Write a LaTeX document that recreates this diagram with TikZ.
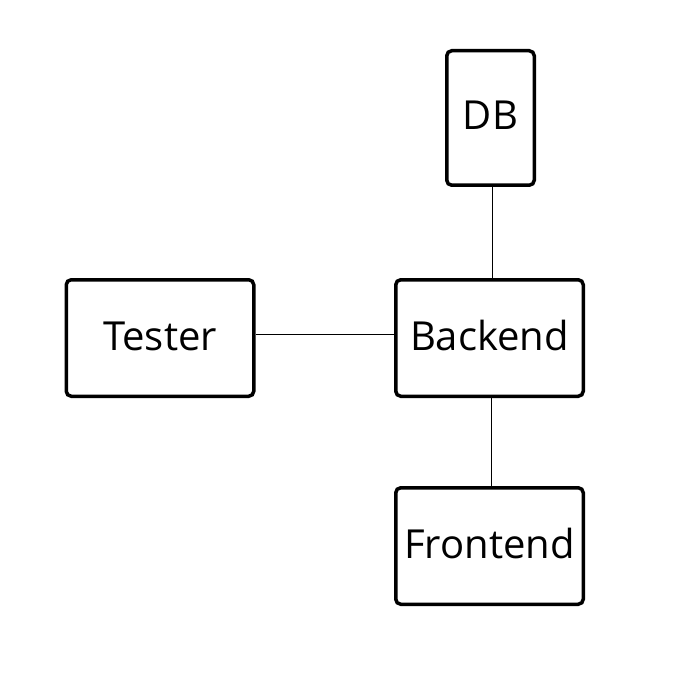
\documentclass[tikz,border=0pt]{standalone}
\usepackage{fontspec}
\setmainfont{Open Sans}
\usetikzlibrary{positioning}
\tikzset{
    comp/.style={rectangle, draw=black, line width=3.5pt, fill=white, rounded corners=5pt, align=center, minimum width=187.5pt, minimum height=116.5pt, inner sep=0pt, text height=30pt, text depth=6pt, font=\fontsize{40}{46}\selectfont},
    store/.style={comp, minimum width=87.5pt, minimum height=134.5pt},
    link/.style={draw=black, line width=1pt}
}
\begin{document}
\begin{tikzpicture}[x=1pt, y=-1pt]
    \useasboundingbox (0,0) rectangle (700,700);
    % Components
    \node[store] (db) at (490.5,118) {DB};
    \node[comp] (tester) at (160,338) {Tester};
    \node[comp] (backend) at (489.5,338) {Backend};
    \node[comp] (frontend) at (489.5,546) {Frontend};
    % Connections
    \draw[link] ([xshift=1.5pt]db.south) -- ([xshift=1.5pt]db.south |- backend.north);
    \draw[link] ([yshift=4pt]tester.east) -- ([yshift=4pt]backend.west);
    \draw[link] ([xshift=1.5pt]backend.south) -- ([xshift=1.5pt]frontend.north);
\end{tikzpicture}
\end{document}
